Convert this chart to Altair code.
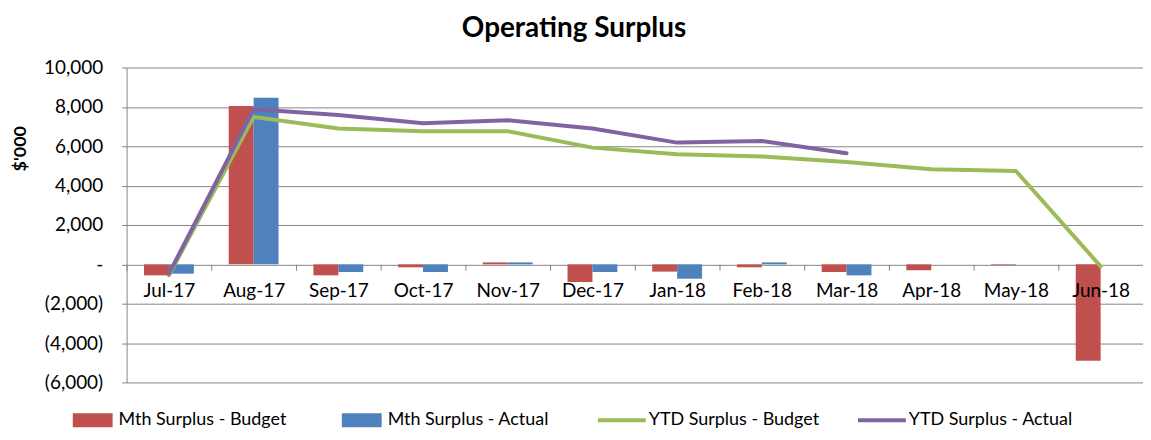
import altair as alt
import pandas as pd

months = ["Jul-17", "Aug-17", "Sep-17", "Oct-17", "Nov-17", "Dec-17",
          "Jan-18", "Feb-18", "Mar-18", "Apr-18", "May-18", "Jun-18"]
mth_budget = [-560, 8050, -560, -150, 100, -900, -370, -150, -390, -300, -30, -4900]
mth_actual = [-475, 8460, -390, -390, 100, -390, -730, 100, -560, None, None, None]
ytd_budget = [-560, 7490, 6900, 6765, 6765, 5930, 5595, 5475, 5200, 4830, 4745, -100]
ytd_actual = [-475, 7880, 7590, 7170, 7320, 6900, 6185, 6270, 5645, None, None, None]
y_ticks = [-6000, -4000, -2000, 0, 2000, 4000, 6000, 8000, 10000]

bar_series = ["Mth Surplus - Budget", "Mth Surplus - Actual"]
line_series = ["YTD Surplus - Budget", "YTD Surplus - Actual"]
bar_colors = ["#C0504D", "#4F81BD"]
line_colors = ["#9BBB59", "#8064A2"]

bar_rows = []
for s, vals in zip(bar_series, [mth_budget, mth_actual]):
    for m, v in zip(months, vals):
        if v is not None:
            bar_rows.append({"month": m, "series": s, "value": v})
line_rows = []
for s, vals in zip(line_series, [ytd_budget, ytd_actual]):
    for m, v in zip(months, vals):
        if v is not None:
            line_rows.append({"month": m, "series": s, "value": v})

bars_df = pd.DataFrame(bar_rows)
lines_df = pd.DataFrame(line_rows)

FONT = "Lato"
W, H = 1020, 316
zero_off = -(H - H * 10000 / 16000)

label_expr = ("datum.value == 0 ? '-\u00a0\u00a0\u00a0' : (datum.value < 0 ? '(' + format(-datum.value, ',') + ')' "
              ": format(datum.value, ',') + '\u00a0')")

x_enc = alt.X("month:N", sort=months,
              scale=alt.Scale(domain=months, paddingInner=0, paddingOuter=0),
              axis=alt.Axis(title=None, orient="bottom", offset=zero_off, labelAngle=0,
                            labelFont=FONT, labelFontSize=19, labelColor="#000000",
                            labelPadding=11, tickBand="extent", tickSize=6,
                            tickColor="#868686", domain=False, grid=False,
                            zindex=1, labelOverlap=False))
y_enc = alt.Y("value:Q",
              scale=alt.Scale(domain=[-6000, 10000], nice=False, zero=False),
              axis=alt.Axis(title="$'000", values=y_ticks, tickCount=len(y_ticks),
                            labelExpr=label_expr, labelFont=FONT, labelFontSize=19,
                            labelColor="#000000", labelPadding=19, tickSize=5,
                            labelOverlap=False,
                            tickColor="#868686", domainColor="#868686",
                            gridColor="#868686", gridWidth=1,
                            titleFont=FONT, titleFontSize=18, titleFontWeight="bold",
                            titleColor="#000000", titleX=-106, titleY=81,
                            titleBaseline="middle", titleAngle=-90))

bars = alt.Chart(bars_df).mark_bar().encode(
    x=x_enc,
    xOffset=alt.XOffset("series:N", sort=bar_series,
                        scale=alt.Scale(domain=bar_series, paddingInner=0, paddingOuter=0.7)),
    y=y_enc,
    color=alt.Color("series:N", sort=bar_series,
                    scale=alt.Scale(domain=bar_series, range=bar_colors),
                    legend=alt.Legend(title=None, orient="none", direction="horizontal",
                                      legendX=-54, legendY=334, padding=0,
                                      symbolType="M-1,-0.35L1,-0.35L1,0.35L-1,0.35Z",
                                      symbolSize=1600, symbolStrokeWidth=0,
                                      symbolOpacity=1,
                                      labelFont=FONT, labelFontSize=18, labelColor="#000000",
                                      labelOffset=6, columnPadding=55, labelLimit=400)),
)

lines = alt.Chart(lines_df).mark_line(strokeWidth=4, strokeCap="round", strokeJoin="round").encode(
    x=x_enc,
    y=y_enc,
    stroke=alt.Stroke("series:N", sort=line_series,
                      scale=alt.Scale(domain=line_series, range=line_colors),
                      legend=alt.Legend(title=None, orient="none", direction="horizontal",
                                        legendX=471, legendY=328, padding=0,
                                        symbolType="stroke", symbolSize=2304,
                                        symbolStrokeWidth=4,
                                        labelFont=FONT, labelFontSize=18, labelColor="#000000",
                                        labelOffset=1, columnPadding=30, labelLimit=400)),
)

chart = alt.layer(bars, lines).properties(
    width=W, height=H,
    autosize=alt.AutoSizeParams(type="none"),
    padding={"left": 119, "top": 59, "right": 0, "bottom": 46},
    title=alt.TitleParams("Operating Surplus", font=FONT, fontSize=28, fontWeight="bold",
                          color="#000000", anchor="middle", dx=-61, offset=16),
).configure_view(stroke=None)

chart.save("out.html", embed_options={"renderer": "svg", "actions": False})
